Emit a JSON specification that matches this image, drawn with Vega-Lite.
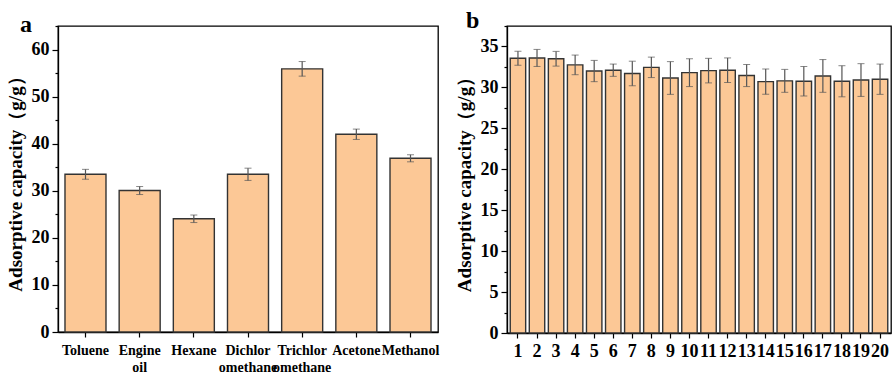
{
  "$schema": "https://vega.github.io/schema/vega-lite/v6.json",
  "padding": {"left": 5, "top": 8, "right": 0, "bottom": 0},
  "background": "white",
  "spacing": 14,
  "datasets": {
    "a": [
      {"solvent": "Toluene", "capacity": 33.5, "err": 1.05},
      {"solvent": "Engine oil", "capacity": 30.05, "err": 0.85},
      {"solvent": "Hexane", "capacity": 24.05, "err": 0.8},
      {"solvent": "Dichloromethane", "capacity": 33.5, "err": 1.3},
      {"solvent": "Trichloromethane", "capacity": 55.9, "err": 1.55},
      {"solvent": "Acetone", "capacity": 42.0, "err": 1.1},
      {"solvent": "Methanol", "capacity": 36.9, "err": 0.75}
    ],
    "b": [
      {"cycle": 1, "capacity": 33.56, "err": 0.85},
      {"cycle": 2, "capacity": 33.6, "err": 1.04},
      {"cycle": 3, "capacity": 33.5, "err": 0.9},
      {"cycle": 4, "capacity": 32.75, "err": 1.2},
      {"cycle": 5, "capacity": 32.0, "err": 1.3},
      {"cycle": 6, "capacity": 32.1, "err": 0.75},
      {"cycle": 7, "capacity": 31.7, "err": 1.5},
      {"cycle": 8, "capacity": 32.45, "err": 1.25},
      {"cycle": 9, "capacity": 31.15, "err": 2.0},
      {"cycle": 10, "capacity": 31.8, "err": 1.7},
      {"cycle": 11, "capacity": 32.05, "err": 1.5},
      {"cycle": 12, "capacity": 32.1, "err": 1.5},
      {"cycle": 13, "capacity": 31.45, "err": 1.35},
      {"cycle": 14, "capacity": 30.7, "err": 1.55},
      {"cycle": 15, "capacity": 30.8, "err": 1.4},
      {"cycle": 16, "capacity": 30.75, "err": 1.8},
      {"cycle": 17, "capacity": 31.4, "err": 2.0},
      {"cycle": 18, "capacity": 30.75, "err": 1.9},
      {"cycle": 19, "capacity": 30.9, "err": 2.0},
      {"cycle": 20, "capacity": 31.0, "err": 1.85}
    ]
  },
  "config": {
    "font": "Liberation Serif",
    "view": {"stroke": "black", "strokeWidth": 1.3},
    "axis": {
      "domainColor": "black",
      "domainWidth": 1.3,
      "tickColor": "black",
      "tickWidth": 1.2,
      "labelColor": "black",
      "labelFont": "Liberation Serif",
      "labelFontWeight": "bold",
      "titleFont": "Liberation Serif",
      "titleFontWeight": "bold",
      "titleColor": "black",
      "grid": false
    },
    "title": {"font": "Liberation Serif", "fontWeight": "bold", "fontSize": 24, "color": "black", "anchor": "start", "frame": "group"}
  },
  "hconcat": [
    {
      "width": 380,
      "height": 306,
      "data": {"name": "a"},
      "title": {"text": "a", "dx": -38, "offset": -12},
      "resolve": {"axis": {"y": "independent"}},
      "layer": [
        {
          "mark": {"type": "bar", "fill": "#FCC896", "stroke": "#333333", "strokeWidth": 1.4},
          "encoding": {
            "x": {
              "field": "solvent", "type": "nominal", "sort": null,
              "scale": {"paddingInner": 0.243, "paddingOuter": 0.129},
              "axis": {
                "title": null, "labelAngle": 0, "labelFontSize": 14, "tickSize": 5, "labelFont": "Liberation Serif",
                "labelPadding": 6, "labelLineHeight": 17, "labelOverlap": false, "labelBound": false,
                "labelExpr": "datum.value == 'Engine oil' ? ['Engine', 'oil'] : datum.value == 'Dichloromethane' ? ['Dichlor', 'omethane'] : datum.value == 'Trichloromethane' ? ['Trichlor', 'omethane'] : datum.value"
              }
            },
            "y": {
              "field": "capacity", "type": "quantitative",
              "scale": {"domain": [0, 65], "nice": false},
              "axis": {
                "title": "Adsorptive capacity（g/g）", "titleFontSize": 19, "titlePadding": 6, "titleFont": "Liberation Serif", "labelFont": "Liberation Serif",
                "values": [0, 10, 20, 30, 40, 50, 60], "labelFontSize": 18, "tickSize": 6, "labelPadding": 3,
                "orient": "left"
              }
            }
          }
        },
        {
          "mark": {"type": "errorbar", "ticks": {"size": 7, "color": "#555555", "strokeWidth": 1.2}, "rule": {"color": "#555555", "strokeWidth": 1.2}},
          "encoding": {
            "x": {"field": "solvent", "type": "nominal", "sort": null},
            "y": {
              "field": "capacity", "type": "quantitative",
              "axis": {"orient": "left", "title": null, "labels": false, "domain": false, "tickSize": 3, "values": [5, 15, 25, 35, 45, 55, 65]}
            },
            "yError": {"field": "err"}
          }
        }
      ]
    },
    {
      "width": 384,
      "height": 307,
      "data": {"name": "b"},
      "title": {"text": "b", "dx": -41, "offset": -8},
      "resolve": {"axis": {"y": "independent"}},
      "layer": [
        {
          "mark": {"type": "bar", "fill": "#FCC896", "stroke": "#333333", "strokeWidth": 1.4},
          "encoding": {
            "x": {
              "field": "cycle", "type": "ordinal",
              "scale": {"paddingInner": 0.19, "paddingOuter": 0.17},
              "axis": {"title": null, "labelAngle": 0, "labelFontSize": 18, "labelFont": "Liberation Serif", "tickSize": 5, "labelPadding": 4, "labelOverlap": false, "labelBound": false}
            },
            "y": {
              "field": "capacity", "type": "quantitative",
              "scale": {"domain": [0, 37.5], "nice": false},
              "axis": {
                "title": "Adsorptive capacity（g/g）", "titleFontSize": 19, "titlePadding": 6, "titleFont": "Liberation Serif", "labelFont": "Liberation Serif",
                "values": [0, 5, 10, 15, 20, 25, 30, 35], "labelFontSize": 18, "tickSize": 6, "labelPadding": 3,
                "orient": "left"
              }
            }
          }
        },
        {
          "mark": {"type": "errorbar", "ticks": {"size": 7, "color": "#555555", "strokeWidth": 1.2}, "rule": {"color": "#555555", "strokeWidth": 1.2}},
          "encoding": {
            "x": {"field": "cycle", "type": "ordinal"},
            "y": {
              "field": "capacity", "type": "quantitative",
              "axis": {"orient": "left", "title": null, "labels": false, "domain": false, "tickSize": 3, "values": [2.5, 7.5, 12.5, 17.5, 22.5, 27.5, 32.5, 37.5]}
            },
            "yError": {"field": "err"}
          }
        }
      ]
    }
  ]
}
